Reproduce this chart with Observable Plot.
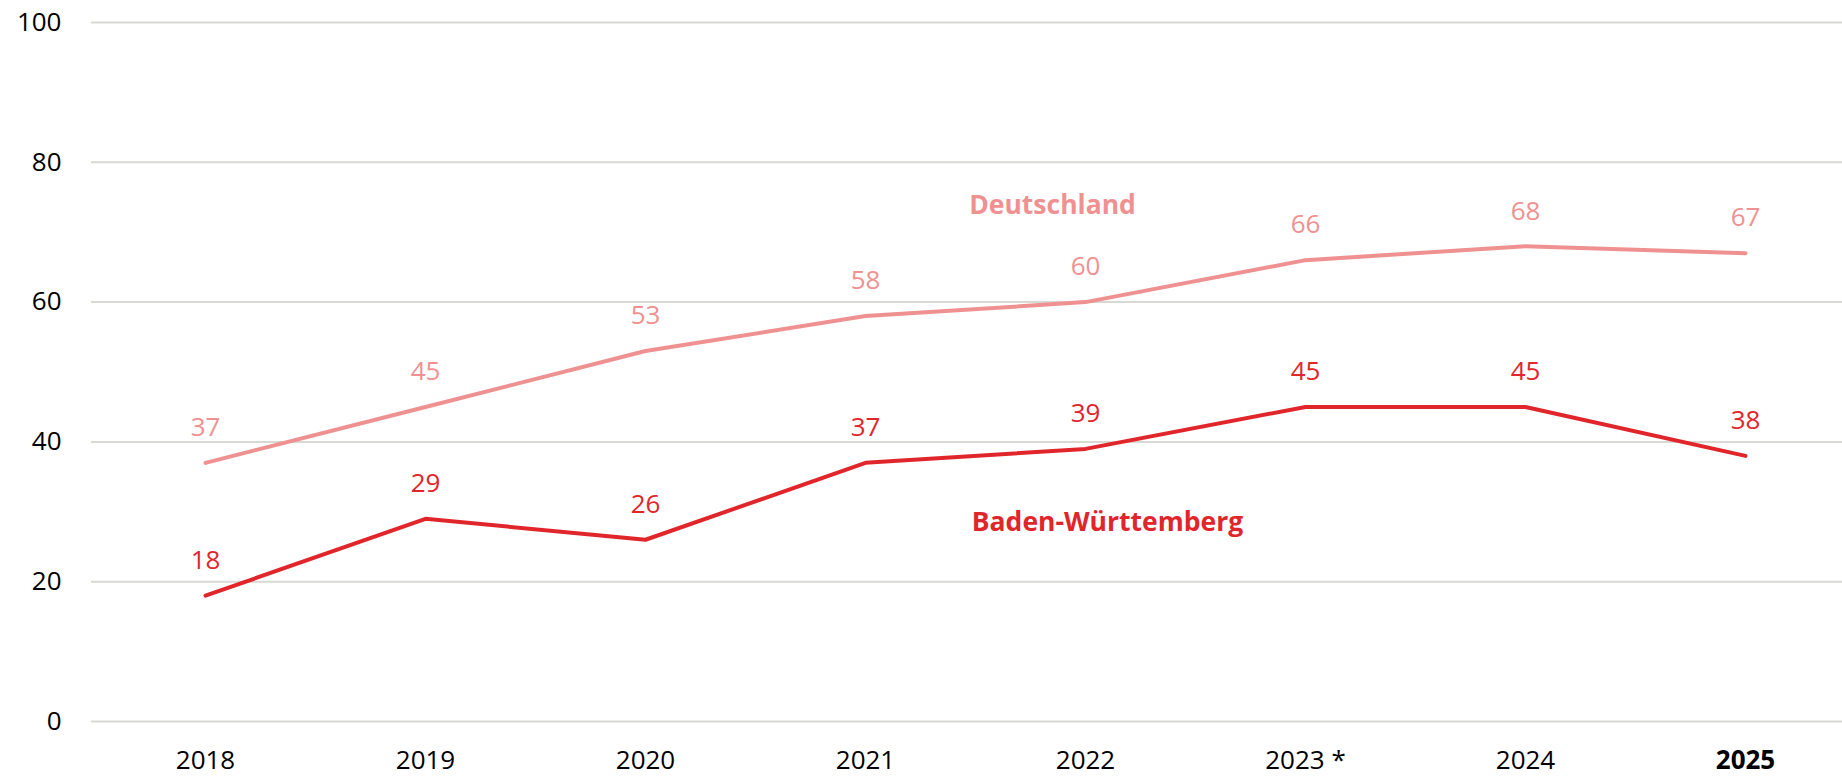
<!DOCTYPE html>
<html>
<head>
<meta charset="utf-8">
<script src="https://cdn.jsdelivr.net/npm/d3@7"></script>
<script src="https://cdn.jsdelivr.net/npm/@observablehq/plot@0.6"></script>
<style>
  html, body { margin: 0; padding: 0; background: #fff; }
  #chart { width: 1842px; height: 776px; }
</style>
</head>
<body>
<div id="chart"></div>
<script>
const years = ["2018", "2019", "2020", "2021", "2022", "2023 *", "2024", "2025"];
const deutschland = [37, 45, 53, 58, 60, 66, 68, 67];
const badenWuerttemberg = [18, 29, 26, 37, 39, 45, 45, 38];
const yTicks = [0, 20, 40, 60, 80, 100];
const seriesNames = ["Deutschland", "Baden-Württemberg"];

const colorDE = "#ef9191";
const colorBW = "#e0262b";
const font = "'Open Sans', 'Noto Sans', sans-serif";

const de = years.map((year, i) => ({year, value: deutschland[i]}));
const bw = years.map((year, i) => ({year, value: badenWuerttemberg[i]}));
const anchorIdx = years.indexOf("2022");

const chart = Plot.plot({
  width: 1842,
  height: 776,
  marginLeft: 91,
  marginRight: 0,
  marginTop: 22,
  marginBottom: 55,
  style: {fontFamily: font, background: "#fff"},
  x: {type: "point", domain: years, range: [202, 1748], padding: 0, label: null},
  y: {domain: [0, 100], label: null},
  marks: [
    Plot.ruleY(yTicks, {stroke: "#d9d9d3", strokeWidth: 2}),
    Plot.axisY({ticks: yTicks, tickSize: 0, tickPadding: 30, fontSize: 26, fill: "#000", label: null, tickFormat: d => String(d)}),
    Plot.axisX({ticks: years.slice(0, -1), tickSize: 0, tickPadding: 29, fontSize: 26, fill: "#000", label: null}),
    Plot.axisX({ticks: years.slice(-1), tickSize: 0, tickPadding: 29, fontSize: 26, fontWeight: "bold", fill: "#000", label: null}),
    Plot.line(de, {x: "year", y: "value", stroke: colorDE, strokeWidth: 4}),
    Plot.line(bw, {x: "year", y: "value", stroke: colorBW, strokeWidth: 4}),
    Plot.text(de, {x: "year", y: "value", text: d => String(d.value), dy: -35, fill: colorDE, fontSize: 26}),
    Plot.text(bw, {x: "year", y: "value", text: d => String(d.value), dy: -35, fill: colorBW, fontSize: 26}),
    Plot.text([de[anchorIdx]], {x: "year", y: "value", text: () => seriesNames[0], dx: -33, dy: -97, fill: colorDE, fontSize: 26.5, fontWeight: "bold"}),
    Plot.text([bw[anchorIdx]], {x: "year", y: "value", text: () => seriesNames[1], dx: 22, dy: 74, fill: colorBW, fontSize: 26.5, fontWeight: "bold"})
  ]
});
document.getElementById("chart").appendChild(chart);
</script>
</body>
</html>
